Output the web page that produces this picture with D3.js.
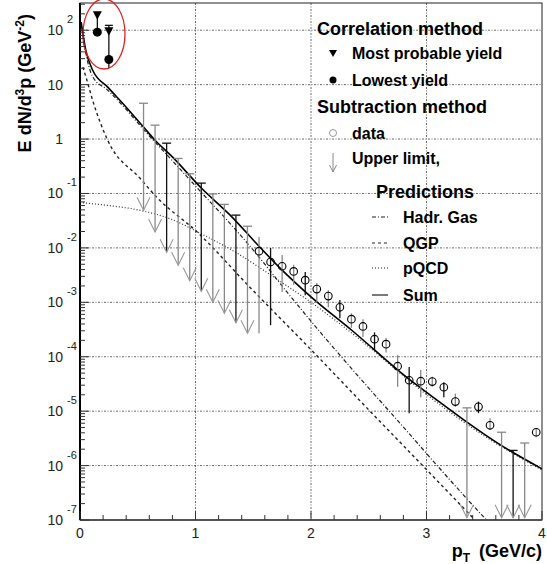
<!DOCTYPE html>
<html>
<head>
<meta charset="utf-8">
<script src="https://cdn.jsdelivr.net/npm/d3@7"></script>
<style>
  body { margin: 0; background: #fff; }
  svg { display: block; font-family: "Liberation Sans", Arial, Helvetica, sans-serif; }
</style>
</head>
<body>
<script>
// model curves: [pT, E dN/d3p]
var sumCurve = [[0.01,141],[0.05,43],[0.11,18.4],[0.24,9.0],[0.4,3.85],[0.55,1.66],[0.65,0.95],[0.8,0.47],
  [1.05,0.126],[1.3,0.04],[1.55,0.0107],[1.73,0.0043],[2.0,1.26e-3],[2.35,3.1e-4],[2.86,3.7e-5],
  [3.03,2.0e-5],[3.35,6.3e-6],[3.64,2.4e-6],[4.0,8.7e-7]];
var hadrGas = [[0.01,126],[0.05,38],[0.11,14],[0.24,7.9],[0.4,3.5],[0.55,1.5],[0.8,0.4],[1.05,0.105],
  [1.3,0.028],[1.55,6.8e-3],[1.78,1.66e-3],[2.0,4.5e-4],[2.77,6.0e-6],[3.52,1e-7],[3.7,4e-8]];
var qgp = [[0.025,21],[0.06,12],[0.11,5.1],[0.24,0.95],[0.52,0.19],[0.67,0.083],[1.01,0.02],
  [1.47,1.9e-3],[2.0,1.35e-4],[2.57,7.4e-6],[2.77,2.7e-6],[3.42,1e-7],[3.6,4e-8]];
var pqcd = [[0.0,0.068],[0.25,0.06],[0.52,0.049],[0.8,0.033],[1.04,0.0186],[1.3,9.5e-3],[1.73,2.45e-3],
  [2.0,1.0e-3],[2.35,2.75e-4],[3.03,1.8e-5],[3.5,3.5e-6],[4.0,8.3e-7]];

// correlation method
var corrPt = [0.15, 0.25];
var corrMostProb = [189, 96];
var corrMostProbHi = [189, 123];
var corrLowest = [92, 29];
var corrLowestLo = [92, 20];

// subtraction method, data points
var dataPt = [1.55,1.65,1.75,1.85,1.95,2.05,2.15,2.25,2.35,2.45,2.55,2.65,2.75,2.85,2.95,3.05,3.15,3.25,3.45,3.55,3.95];
var dataY  = [8.7e-3,5.5e-3,4.6e-3,3.7e-3,2.55e-3,1.75e-3,1.3e-3,8.1e-4,4.9e-4,3.6e-4,2.1e-4,1.7e-4,
  6.7e-5,3.7e-5,3.55e-5,3.5e-5,2.75e-5,1.5e-5,1.2e-5,5.5e-6,4.1e-6];
var dataHi = [0.0158,0.01,7.4e-3,4.9e-3,3.6e-3,2.26e-3,1.67e-3,1.1e-3,6.3e-4,4.9e-4,2.8e-4,2.2e-4,
  1.07e-4,6.5e-5,5.7e-5,4.3e-5,3.4e-5,2.1e-5,1.5e-5,7.4e-6,4.9e-6];
var dataLo = [2.7e-4,3.8e-4,1.55e-3,2.1e-3,1.35e-3,1.0e-3,8.1e-4,5.1e-4,3.4e-4,2.3e-4,1.3e-4,1.2e-4,
  2.8e-5,9.2e-6,1.8e-5,2.8e-5,1.8e-5,1.2e-5,9.2e-6,4.5e-6,3.3e-6];

// subtraction method, upper limits
var ulPt  = [0.55,0.65,0.75,0.85,0.95,1.05,1.15,1.25,1.35,1.45,3.35,3.65,3.75,3.85];
var ulTop = [4.55,1.8,0.84,0.44,0.23,0.155,0.098,0.063,0.04,0.025,1.15e-5,4.1e-6,1.9e-6,2.6e-6];
var ulTip = [0.049,0.0195,0.0083,0.0048,0.0025,0.0016,0.001,6.3e-4,4.2e-4,2.7e-4,1.1e-7,1.1e-7,1.1e-7,1.1e-7];

var xTicks = [0,1,2,3,4];
var yExps = [-7,-6,-5,-4,-3,-2,-1,0,1,2];

var L = 80, R = 542, T = 3, B = 520;
var svg = d3.select('body').append('svg').attr('width', 547).attr('height', 564);
var x = d3.scaleLinear().domain([0,4]).range([L,R]);
var y = d3.scaleLog().domain([1e-7, Math.pow(10,2.5)]).range([B,T]);

svg.append('clipPath').attr('id','clip').append('rect')
  .attr('x',L).attr('y',T).attr('width',R-L).attr('height',B-T);

// grid
var grid = svg.append('g').attr('stroke','#444').attr('stroke-width',0.8).attr('stroke-dasharray','2,1.5,1,1.5');
yExps.filter(function(e){ return e > -7; }).forEach(function(e){
  grid.append('line').attr('x1',L).attr('x2',R).attr('y1',y(Math.pow(10,e))).attr('y2',y(Math.pow(10,e)));
});
[1,2,3].forEach(function(v){
  grid.append('line').attr('x1',x(v)).attr('x2',x(v)).attr('y1',T).attr('y2',B);
});

// frame
svg.append('rect').attr('x',L).attr('y',T).attr('width',R-L).attr('height',B-T)
  .attr('fill','none').attr('stroke','#222').attr('stroke-width',1);

// curves
var line = d3.line().x(function(d){ return x(d[0]); }).y(function(d){ return y(d[1]); }).curve(d3.curveMonotoneX);
var curves = svg.append('g').attr('clip-path','url(#clip)').attr('fill','none');
curves.append('path').datum(pqcd).attr('d',line).attr('stroke','#333').attr('stroke-width',1.2).attr('stroke-dasharray','1,2');
curves.append('path').datum(qgp).attr('d',line).attr('stroke','#222').attr('stroke-width',1.4).attr('stroke-dasharray','3,3');
curves.append('path').datum(hadrGas).attr('d',line).attr('stroke','#222').attr('stroke-width',1.2).attr('stroke-dasharray','4,2,1,2');
curves.append('path').datum(sumCurve).attr('d',line).attr('stroke','#000').attr('stroke-width',1.6);

function shade(pt) {
  return Math.round((pt - 0.55) / 0.1) % 3 === 2 ? '#111' : '#888';
}

// upper limits
var ul = svg.append('g');
ulPt.forEach(function(pt, i){
  var cx = x(pt), c = shade(pt);
  ul.append('line').attr('x1',cx).attr('x2',cx).attr('y1',y(ulTop[i])).attr('y2',y(ulTip[i]))
    .attr('stroke',c).attr('stroke-width',1.3);
  ul.append('line').attr('x1',cx-4.5).attr('x2',cx+4.5).attr('y1',y(ulTop[i])).attr('y2',y(ulTop[i]))
    .attr('stroke',c).attr('stroke-width',1.3);
  ul.append('path').attr('d','M'+(cx-6.5)+','+(y(ulTip[i])-13)+'L'+cx+','+y(ulTip[i])+'L'+(cx+6.5)+','+(y(ulTip[i])-13))
    .attr('fill','none').attr('stroke','#999').attr('stroke-width',1.1);
});

// data points
var dp = svg.append('g');
dataPt.forEach(function(pt, i){
  var cx = x(pt);
  dp.append('line').attr('x1',cx).attr('x2',cx).attr('y1',y(dataHi[i])).attr('y2',y(dataLo[i]))
    .attr('stroke',shade(pt)).attr('stroke-width',1.3);
  dp.append('circle').attr('cx',cx).attr('cy',y(dataY[i])).attr('r',3.8)
    .attr('fill','none').attr('stroke','#000').attr('stroke-width',1.1);
});

// correlation method
var cm = svg.append('g');
corrPt.forEach(function(pt, i){
  var cx = x(pt);
  cm.append('line').attr('x1',cx).attr('x2',cx).attr('y1',y(corrMostProbHi[i])).attr('y2',y(corrLowestLo[i]))
    .attr('stroke','#000').attr('stroke-width',1.2);
  if (corrMostProbHi[i] !== corrMostProb[i]) {
    cm.append('line').attr('x1',cx-4).attr('x2',cx+4).attr('y1',y(corrMostProbHi[i])).attr('y2',y(corrMostProbHi[i]))
      .attr('stroke','#000').attr('stroke-width',1.2);
  }
  var ty = y(corrMostProb[i]);
  cm.append('path').attr('d','M'+(cx-4.5)+','+(ty-4)+'L'+(cx+4.5)+','+(ty-4)+'L'+cx+','+(ty+4.5)+'Z').attr('fill','#000');
  cm.append('circle').attr('cx',cx).attr('cy',y(corrLowest[i])).attr('r',4.5).attr('fill','#000');
});
svg.append('ellipse').attr('cx',104).attr('cy',34).attr('rx',21).attr('ry',35)
  .attr('fill','none').attr('stroke','#e02020').attr('stroke-width',1.3);

// axes
var ax = svg.append('g');
ax.append('line').attr('x1',L).attr('x2',R).attr('y1',B).attr('y2',B).attr('stroke','#555').attr('stroke-width',2);
ax.append('line').attr('x1',L).attr('x2',L).attr('y1',T).attr('y2',B).attr('stroke','#000').attr('stroke-width',2);
d3.range(0,4.01,0.2).forEach(function(v){
  var major = Math.abs(v - Math.round(v)) < 1e-6;
  ax.append('line').attr('x1',x(v)).attr('x2',x(v)).attr('y1',B).attr('y2',B-(major?9:5))
    .attr('stroke','#333').attr('stroke-width',1);
});
yExps.forEach(function(e){
  ax.append('line').attr('x1',L).attr('x2',L+9).attr('y1',y(Math.pow(10,e))).attr('y2',y(Math.pow(10,e)))
    .attr('stroke','#333').attr('stroke-width',1);
  for (var k = 2; k <= 9; k++) {
    var v = k * Math.pow(10,e);
    if (v > Math.pow(10,2.5)) break;
    ax.append('line').attr('x1',L).attr('x2',L+5).attr('y1',y(v)).attr('y2',y(v))
      .attr('stroke','#333').attr('stroke-width',1);
  }
});

// tick labels
var tl = svg.append('g').attr('fill','#222').style('font-size','14px');
xTicks.forEach(function(v){
  tl.append('text').attr('x',x(v)).attr('y',538).attr('text-anchor','middle').text(v);
});
yExps.forEach(function(e){
  var ty = y(Math.pow(10,e));
  tl.append('text').attr('x',63).attr('y',ty+5).attr('text-anchor','end').text(e === 0 ? '1' : '10');
  if (e !== 0 && e !== 1) {
    tl.append('text').attr('x',67).attr('y',ty-7).style('font-size','11px').text(e);
  }
});

// axis titles
var yt = svg.append('text').attr('transform','translate(31,14) rotate(-90)').attr('text-anchor','end')
  .style('font-size','18px').style('font-weight','bold').attr('fill','#000');
yt.append('tspan').text('E dN/d');
yt.append('tspan').attr('dy',-7).style('font-size','12px').text('3');
yt.append('tspan').attr('dy',7).text('p (GeV');
yt.append('tspan').attr('dy',-7).style('font-size','12px').text('-2');
yt.append('tspan').attr('dy',7).text(')');

var xt = svg.append('text').attr('x',542).attr('y',557).attr('text-anchor','end')
  .style('font-size','18px').style('font-weight','bold').attr('fill','#000');
xt.append('tspan').text('p');
xt.append('tspan').attr('dy',5).style('font-size','12px').text('T');
xt.append('tspan').attr('dy',-5).attr('dx',9).text('(GeV/c)');

// legend
var lg = svg.append('g').style('font-weight','bold').attr('fill','#000');
lg.append('text').attr('x',317).attr('y',35).style('font-size','18px').text('Correlation method');
lg.append('path').attr('d','M329,50L337,50L333,57Z').attr('fill','#000');
lg.append('text').attr('x',352).attr('y',59).style('font-size','16px').text('Most probable yield');
lg.append('circle').attr('cx',333).attr('cy',80).attr('r',3.5).attr('fill','#000');
lg.append('text').attr('x',352).attr('y',86).style('font-size','16px').text('Lowest yield');
lg.append('text').attr('x',317).attr('y',113).style('font-size','18px').text('Subtraction method');
lg.append('circle').attr('cx',333).attr('cy',133).attr('r',3.5).attr('fill','none').attr('stroke','#999');
lg.append('text').attr('x',352).attr('y',139).style('font-size','16px').text('data');
lg.append('line').attr('x1',333).attr('x2',333).attr('y1',153).attr('y2',172).attr('stroke','#888');
lg.append('path').attr('d','M329.5,165L333,172L336.5,165').attr('fill','none').attr('stroke','#888');
lg.append('text').attr('x',352).attr('y',164).style('font-size','16px').text('Upper limit,');
lg.append('text').attr('x',376).attr('y',198).style('font-size','18px').text('Predictions');
var items = [['Hadr. Gas','4,2,1,2',217],['QGP','3,3',243],['pQCD','1,2',268],['Sum',null,295]];
items.forEach(function(it){
  var l = lg.append('line').attr('x1',372).attr('x2',388).attr('y1',it[2]).attr('y2',it[2])
    .attr('stroke','#222').attr('stroke-width',1.2);
  if (it[1]) l.attr('stroke-dasharray',it[1]);
  lg.append('text').attr('x',403).attr('y',it[2]+6).style('font-size','16px').text(it[0]);
});
</script>
</body>
</html>
